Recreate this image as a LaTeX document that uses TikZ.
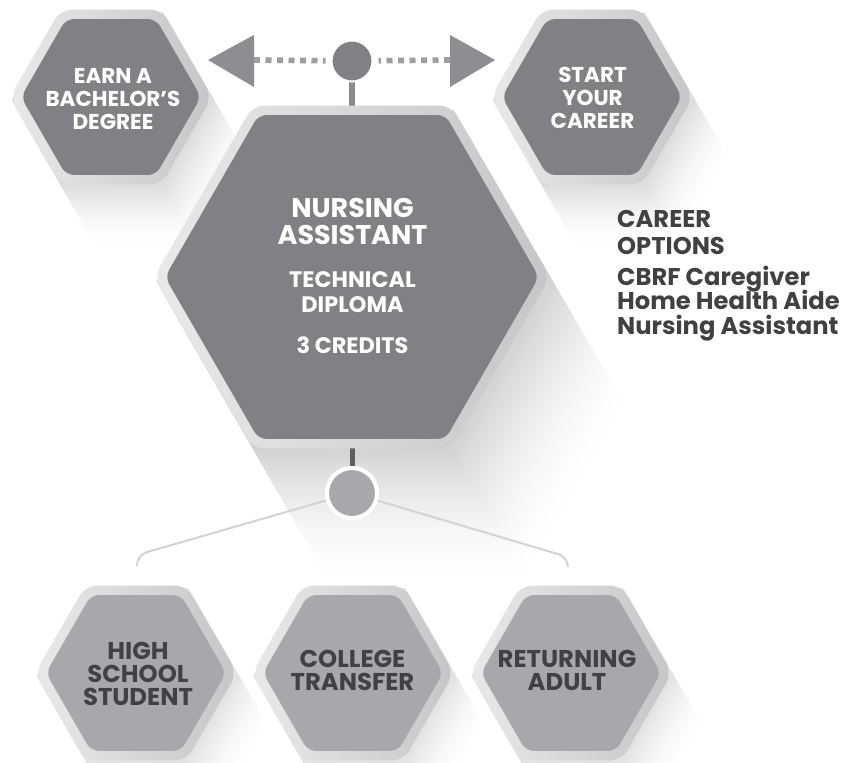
\documentclass[tikz,border=0pt]{standalone}
\usepackage{fontspec}
\setmainfont{Poppins}
\usetikzlibrary{calc}
\definecolor{hexdark}{HTML}{808184}
\definecolor{hexlite}{HTML}{A7A8AB}
\definecolor{txtdark}{HTML}{404143}
\definecolor{bordL}{HTML}{E9E9EA}
\definecolor{bordR}{HTML}{C5C6C8}
\definecolor{dotc}{HTML}{9D9EA1}
\definecolor{arrc}{HTML}{8D8E91}
\definecolor{stemc}{HTML}{8A8B8E}
\definecolor{stemd}{HTML}{5E5F62}
\definecolor{fanc}{HTML}{D2D3D5}
\newcommand\hexpts[3]{({#1+(#3)},{#2}) -- ({#1+0.5*(#3)},{#2+0.866*(#3)}) -- ({#1-0.5*(#3)},{#2+0.866*(#3)}) -- ({#1-(#3)},{#2}) -- ({#1-0.5*(#3)},{#2-0.866*(#3)}) -- ({#1+0.5*(#3)},{#2-0.866*(#3)}) -- cycle}
\tikzset{
  toptxt/.style={text=white, font=\bfseries\fontsize{21.5}{23.3}\selectfont, align=center, inner sep=0pt, anchor=north},
  titletxt/.style={text=white, font=\bfseries\fontsize{27}{26.7}\selectfont, align=center, inner sep=0pt, anchor=north},
  subtxt/.style={text=white, font=\bfseries\fontsize{22.4}{25}\selectfont, align=center, inner sep=0pt, anchor=north},
  bottxt/.style={text=txtdark, font=\bfseries\fontsize{24.3}{23}\selectfont, align=center, inner sep=0pt, anchor=north},
  listtxt/.style={text=txtdark, font=\bfseries\fontsize{24.2}{27}\selectfont, align=left, inner sep=0pt},
  dotln/.style={draw=dotc, line width=5.7pt, dash pattern=on 6pt off 5.5pt, shorten >=5pt},
  stemln/.style={line width=6pt},
  fanln/.style={draw=fanc, line width=2pt, rounded corners=10pt},
  arrowtri/.style={fill=arrc},
}
\begin{document}
\begin{tikzpicture}[x=1pt,y=-1pt]
\useasboundingbox (0,0) rectangle (866,762);
\fill[white] (0,0) rectangle (866,762);
% long shadows: opaque layers from far (white) to near (grey)
\foreach \cx/\cy/\R/\st/\N/\mx in {352/277/198/5/30/17, 111/97/101/3.5/20/13, 592/97/101/3.5/20/13, 136/673/101/3/20/11, 353/673/101/3/20/11, 571/673/101/3/20/11}{
  \foreach \k in {\N,...,1}{
    \pgfmathsetmacro\pct{\mx*(1-(\k-1)/\N)^1.7}
    \fill[black!\pct!white] \hexpts{\cx+\k*\st*0.5}{\cy+\k*\st*0.866}{\R};
  }
}
% named points
\coordinate (nurtop) at (352,106);
\coordinate (nurbot) at (352,448);
\coordinate (ltip) at (208,60);
\coordinate (lb1) at (254,35);
\coordinate (lb2) at (254,87);
\coordinate (lbase) at (254,60);
\coordinate (rtip) at (495,60);
\coordinate (rb1) at (450,35);
\coordinate (rb2) at (450,87);
\coordinate (rbase) at (450,60);
\coordinate (fanLc) at (137,555);
\coordinate (fanL) at (137,566);
\coordinate (fanRc) at (568,557);
\coordinate (fanR) at (568,566);
% circles
\node[circle, fill=hexdark, draw=white, line width=2pt, minimum size=41pt, inner sep=0pt] (tdot) at (352,61) {};
\node[circle, fill=hexlite, draw=white, line width=4pt, minimum size=50pt, inner sep=0pt] (bdot) at (352,493) {};
% fan lines and stems (under the shapes)
\draw[fanln] (bdot) -- (fanLc) -- (fanL);
\draw[fanln] (bdot) -- (fanRc) -- (fanR);
\draw[stemln, draw=stemc] (tdot) -- (nurtop);
\draw[stemln, draw=stemd, line width=5pt] (nurbot) -- (bdot);
% hexagons
\foreach \cx/\cy/\R/\fc in {111/97/101/hexdark, 592/97/101/hexdark, 352/277/198/hexdark, 136/673/101/hexlite, 353/673/101/hexlite, 571/673/101/hexlite}{
  \shade[left color=bordL, right color=bordR, rounded corners=12pt] \hexpts{\cx}{\cy}{\R};
  \fill[\fc, rounded corners=8pt] \hexpts{\cx}{\cy}{\R-11};
}
% redraw circles on top
\node[circle, fill=hexdark, draw=white, line width=2pt, minimum size=41pt, inner sep=0pt] at (tdot) {};
\node[circle, fill=hexlite, draw=white, line width=4pt, minimum size=50pt, inner sep=0pt] at (bdot) {};
% arrows
\fill[arrowtri] (ltip) -- (lb1) -- (lb2) -- cycle;
\fill[arrowtri] (rtip) -- (rb1) -- (rb2) -- cycle;
\draw[dotln] (lbase) -- (tdot);
\draw[dotln] (rbase) -- (tdot);
% texts
\node[toptxt] (bach) at (113,68) {EARN A\\BACHELOR’S\\DEGREE};
\node[toptxt] (start) at (592.5,66.7) {START\\YOUR\\CAREER};
\node[titletxt] (nurs) at (352.5,198.3) {NURSING\\ASSISTANT};
\node[subtxt] (tech) at (352.5,271.7) {TECHNICAL\\DIPLOMA};
\node[subtxt] (cred) at (352.5,336.7) {3 CREDITS};
\node[bottxt] (hs) at (138,641.7) {HIGH\\SCHOOL\\STUDENT};
\node[bottxt] (ct) at (352.5,650) {COLLEGE\\TRANSFER};
\node[bottxt] (ra) at (567,650) {RETURNING\\ADULT};
\node[listtxt, anchor=north west] (opt) at (617,210) {CAREER\\OPTIONS};
\node[listtxt, anchor=base west] (cbrf) at (617,285) {CBRF Caregiver};
\node[listtxt, anchor=base west] (hha) at (617,309) {Home Health Aide};
\node[listtxt, anchor=base west] (nas) at (617,334) {Nursing Assistant};
\end{tikzpicture}
\end{document}
